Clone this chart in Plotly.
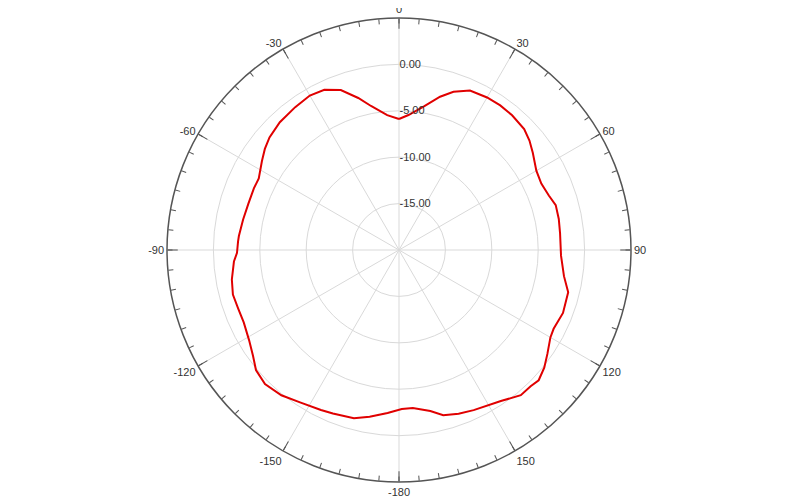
import plotly.graph_objects as go

# Pattern data (angle in degrees, clockwise from top; gain in dB)
theta_deg = [0, 4, 10, 15, 19, 24, 30, 35, 40, 46, 50, 54, 60, 65, 70, 74, 79, 84,
             92, 99, 104, 111, 117, 120, 125, 129, 133, 136, 140, 146, 155, 160, 165,
             169, 175, 179, 184, 190, 195, 202, 206, 213, 219, 225, 230, 234, 239,
             245, 250, 255, 260, 266, 269, 273, 275, 281, 287, 293, 297, 303, 307,
             311, 317, 324, 330, 335, 340, 345, 349, 355, 360]
gain_db = [-5.88, -5.42, -4.25, -2.90, -1.97, -1.19, -1.02, -0.98, -1.04, -1.25, -1.65,
           -2.18, -2.91, -3.08, -2.82, -2.43, -2.46, -2.55, -2.53, -2.00, -1.21, -1.07,
           -1.30, -1.16, -0.48, 0.14, 0.58, 0.42, 0.42, -0.37, -0.96, -1.22, -1.57,
           -2.32, -2.90, -2.87, -2.39, -1.76, -1.23, -0.99, -0.82, -0.42, 0.14, 0.42,
           0.12, -0.56, -1.15, -1.54, -1.56, -1.47, -1.71, -2.17, -2.54, -2.63, -2.68,
           -2.88, -3.02, -3.01, -3.04, -2.39, -1.90, -1.51, -1.17, -0.97, -0.78, -0.96,
           -1.66, -3.04, -4.19, -5.41, -5.88]

angle_tickvals = [0, 30, 60, 90, 120, 150, 180, 210, 240, 270, 300, 330]
angle_ticktext = ["0", "30", "60", "90", "120", "150", "-180", "-150", "-120", "-90", "-60", "-30"]
radial_tickvals = [-15, -10, -5, 0]
radial_ticktext = ["-15.00", "-10.00", "-5.00", "0.00"]
r_range = [-20, 5]

fig = go.Figure()
fig.add_trace(go.Scatterpolar(
    r=gain_db, theta=theta_deg, mode="lines",
    line=dict(color="#e00000", width=2),
    showlegend=False, subplot="polar"))
# helper subplot only for the 5-degree minor ticks
fig.add_trace(go.Scatterpolar(
    r=[None], theta=[None], mode="lines", showlegend=False,
    hoverinfo="skip", subplot="polar2"))

font = dict(family="Liberation Sans, Arial, sans-serif", size=11, color="#333333")

fig.update_layout(
    width=800, height=500, autosize=False,
    paper_bgcolor="white",
    margin=dict(l=0, r=18, t=10, b=26),
    font=font,
    polar=dict(
        domain=dict(x=[0, 1], y=[0, 1]),
        bgcolor="white",
        angularaxis=dict(
            rotation=90, direction="clockwise",
            tickmode="array", tickvals=angle_tickvals, ticktext=angle_ticktext,
            ticks="inside", ticklen=10, tickwidth=1, tickcolor="#555555",
            showline=True, linecolor="#555555", linewidth=1.5,
            showgrid=True, gridcolor="#d9d9d9", gridwidth=1,
            tickfont=font,
        ),
        radialaxis=dict(
            range=r_range, angle=90, side="clockwise",
            tickmode="array", tickvals=radial_tickvals, ticktext=radial_ticktext,
            showline=False, ticks="",
            showgrid=True, gridcolor="#d9d9d9", gridwidth=1,
            tickfont=dict(family="Liberation Sans, Arial, sans-serif", size=11, color="#333333"),
            tickangle=90,
        ),
    ),
    polar2=dict(
        domain=dict(x=[0, 1], y=[0, 1]),
        bgcolor="rgba(0,0,0,0)",
        angularaxis=dict(
            rotation=90, direction="clockwise",
            tickmode="linear", tick0=0, dtick=5,
            ticks="inside", ticklen=5, tickwidth=1, tickcolor="#555555",
            showline=False, showgrid=False, showticklabels=False,
        ),
        radialaxis=dict(range=r_range, visible=False),
    ),
)

fig.write_html("out.html")
